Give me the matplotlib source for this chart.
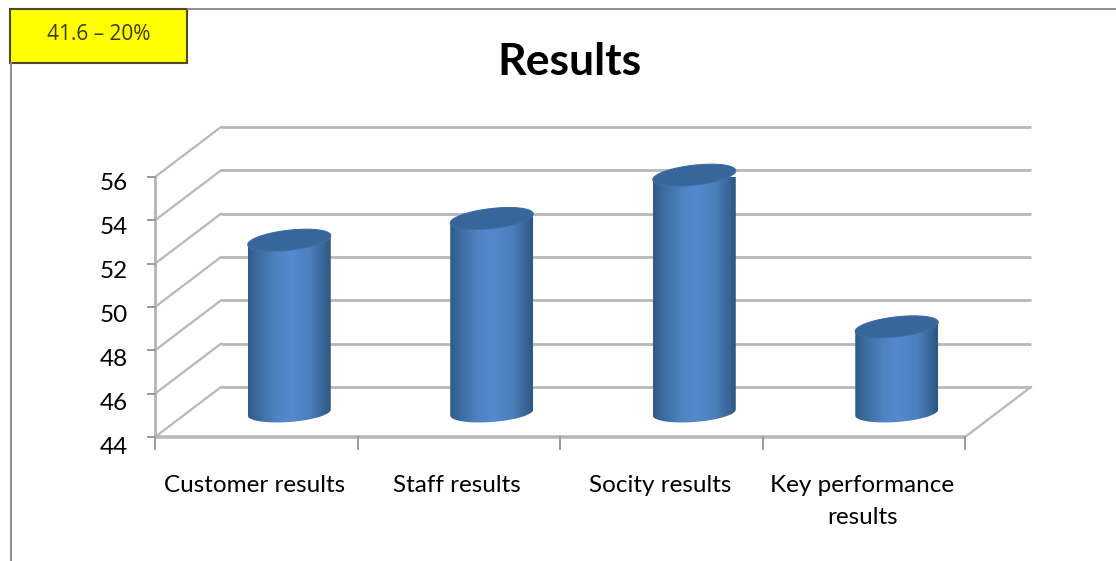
import numpy as np
import matplotlib
matplotlib.use("Agg")
import matplotlib.pyplot as plt
from matplotlib.path import Path
from matplotlib.patches import PathPatch, Rectangle
from matplotlib.colors import LinearSegmentedColormap
from matplotlib.transforms import Affine2D

categories = ["Customer results", "Staff results", "Socity results", "Key performance\nresults"]
values = [52, 53, 55, 48]
y_ticks = [44, 46, 48, 50, 52, 54, 56]
title = "Results"
note = "41.6 – 20%"

W, H = 1116, 561
plt.rcParams["font.family"] = ["Lato", "DejaVu Sans"]
fig = plt.figure(figsize=(W / 100, H / 100), dpi=100)

# front plane of the pseudo-3D plot, in pixels
L, R, B, T = 155, 965, 437, 177
ax = fig.add_axes([L / W, 1 - B / H, (R - L) / W, (B - T) / H])
ax.set_xlim(0, len(categories))
ax.set_ylim(min(y_ticks), max(y_ticks))
ax.axis("off")

DX, DY = 66, 50
GRID = "#b8b8b8"
back = ax.transData + Affine2D().translate(DX, DY)
mid = ax.transData + Affine2D().translate(DX / 2, DY / 2)
n = len(categories)

# back-wall grid lines and side-wall diagonals
for v in y_ticks:
    ax.plot([0, n], [v, v], transform=back, color=GRID, lw=2.0, clip_on=False, zorder=1, solid_capstyle="butt")
    p0 = ax.transData.transform((0, v))
    ax.plot([p0[0], p0[0] + DX], [p0[1], p0[1] + DY], transform=None, color=GRID, lw=1.6, clip_on=False, zorder=1)
# floor
p = ax.transData.transform((n, y_ticks[0]))
ax.plot([p[0], p[0] + DX], [p[1], p[1] + DY], transform=None, color=GRID, lw=1.6, clip_on=False, zorder=1)
ax.plot([0, n], [y_ticks[0]] * 2, color=GRID, lw=2.6, clip_on=False, zorder=2, solid_capstyle="butt")
ax.plot([0, 0], [y_ticks[0], y_ticks[-1]], color=GRID, lw=2.2, clip_on=False, zorder=2, solid_capstyle="butt")

# ticks
for v in y_ticks:
    p = ax.transData.transform((0, v))
    ax.plot([p[0] - 7, p[0]], [p[1], p[1]], transform=None, color="#9a9a9a", lw=1.4, clip_on=False, zorder=2)
    off = 6.5 + (max(y_ticks) - v) * 4 / 12
    ax.annotate(str(v), (0, v), xytext=(-27 * 0.72, -off * 0.72), textcoords="offset points",
                ha="right", va="center", fontsize=17.5, color="black", annotation_clip=False)
for i in range(n + 1):
    p = ax.transData.transform((i, y_ticks[0]))
    ax.plot([p[0], p[0]], [p[1], p[1] - 12], transform=None, color="#9a9a9a", lw=1.4, clip_on=False, zorder=2)
for i, c in enumerate(categories):
    ax.annotate(c, (i + 0.5, y_ticks[0]), xytext=(-1.0, -27.5), textcoords="offset points",
                ha="center", va="top", fontsize=17.5, color="black", linespacing=1.66,
                annotation_clip=False)

# cylinders
cmap = LinearSegmentedColormap.from_list("cyl", [(0, "#30598a"), (0.12, "#3c6ba0"), (0.35, "#4f83c2"),
                                                 (0.52, "#5589cd"), (0.75, "#4c7fbc"), (0.92, "#386496"),
                                                 (1, "#2e5582")])
A, BT, ST, BL, SL = 41.5, 10.0, 4.5, 9.5, 3.0  # half width, half heights and shears (pixels)
t = np.linspace(0, 2 * np.pi, 121)
for i, v in enumerate(values):
    cx, top = mid.transform((i + 0.5, v))
    top -= 1.5
    _, bot = mid.transform((i + 0.5, y_ticks[0]))
    bot -= 0.5
    lower = np.linspace(np.pi, 2 * np.pi, 60)
    xs_b = cx + A * np.cos(lower)
    ys_b = bot + BL * np.sin(lower) + SL * np.cos(lower)
    upper = np.linspace(0, np.pi, 60)
    xs_t = cx + A * np.cos(upper)
    ys_t = top + BT * np.sin(upper) + ST * np.cos(upper)
    verts = np.column_stack([np.r_[xs_b, xs_t], np.r_[ys_b, ys_t]])
    body = Path(np.vstack([verts, verts[0]]), closed=True)
    clip = PathPatch(body, transform=None, facecolor="none", edgecolor="none")
    ax.add_patch(clip)
    grad = np.linspace(0, 1, 256).reshape(1, -1)
    im = ax.imshow(grad, cmap=cmap, aspect="auto", zorder=3, transform=None,
                   extent=(cx - A, cx + A, bot - BL - SL - 2, top + BT + ST + 2), interpolation="bilinear")
    im.set_clip_path(clip)
    cap = Path(np.column_stack([cx + A * np.cos(t), top + BT * np.sin(t) + ST * np.cos(t)]), closed=True)
    ax.add_patch(PathPatch(cap, transform=None, facecolor="#38659a", edgecolor="#3f6ea6", lw=0.8, zorder=4, clip_on=False))
ax.set_xlim(0, n)
ax.set_ylim(min(y_ticks), max(y_ticks))

# chart frame
frame = "#8e8e8e"
fig.add_artist(plt.Line2D([188 / W, 1], [1 - 9 / H] * 2, color=frame, lw=1.4))
fig.add_artist(plt.Line2D([10.5 / W] * 2, [1 - 63 / H, 0], color=frame, lw=1.4))
fig.add_artist(Rectangle((10 / W, 1 - 63 / H), 177 / W, 54 / H, transform=fig.transFigure,
                         facecolor="#ffff00", edgecolor="#4a4a1e", lw=1.5))
fig.text(99 / W, 1 - 34 / H, note, ha="center", va="center", fontsize=15, color="#3a3a20", family="Open Sans")
fig.text(569 / W, 1 - 62 / H, title, ha="center", va="center", fontsize=32, fontweight="bold", color="black")

fig.savefig("out.png", dpi=100)
